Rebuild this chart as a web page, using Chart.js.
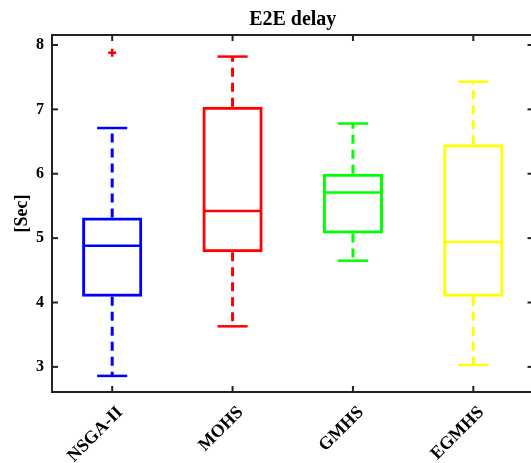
<!DOCTYPE html>
<html>
<head>
<meta charset="utf-8">
<script src="https://cdn.jsdelivr.net/npm/chart.js@4.4.0/dist/chart.umd.min.js"></script>
<style>
  html, body { margin: 0; padding: 0; overflow: hidden; background: #fff; }
</style>
</head>
<body>
<canvas id="chart" width="540" height="463" style="width:540px;height:463px"></canvas>
<script>
const categories = ["NSGA-II", "MOHS", "GMHS", "EGMHS"];
const boxLow = [4.09, 4.78, 5.07, 4.09];
const boxHigh = [5.32, 7.04, 6.00, 6.46];
const medians = [4.88, 5.42, 5.71, 4.94];
const whiskerLow = [2.86, 3.63, 4.65, 3.03];
const whiskerHigh = [6.71, 7.82, 6.78, 7.43];
const outliers = [7.88, null, null, null];
const yTicks = [3, 4, 5, 6, 7, 8];
const colors = ["#0000ff", "#ff0000", "#00ff00", "#ffff00"];

const serif = "'Liberation Serif', 'Times New Roman', serif";

function seg(ctx, x1, y1, x2, y2) {
  ctx.beginPath();
  ctx.moveTo(x1, y1);
  ctx.lineTo(x2, y2);
  ctx.stroke();
}

// whiskers, medians, axes frame with inward ticks
const boxExtras = {
  id: "boxExtras",
  afterDatasetsDraw(chart) {
    const { ctx, scales: { x, y } } = chart;
    const bars = chart.getDatasetMeta(0).data;
    categories.forEach((c, i) => {
      const cx = x.getPixelForValue(i);
      const w = bars[i].width;
      ctx.save();
      ctx.strokeStyle = colors[i];
      ctx.lineWidth = 2.5;
      seg(ctx, cx - w / 2 + 1, y.getPixelForValue(medians[i]), cx + w / 2 - 1, y.getPixelForValue(medians[i]));
      ctx.lineWidth = 3;
      ctx.setLineDash([9, 6]);
      seg(ctx, cx, y.getPixelForValue(boxHigh[i]), cx, y.getPixelForValue(whiskerHigh[i]));
      seg(ctx, cx, y.getPixelForValue(boxLow[i]), cx, y.getPixelForValue(whiskerLow[i]));
      ctx.setLineDash([]);
      ctx.lineWidth = 2.5;
      seg(ctx, cx - w / 4, y.getPixelForValue(whiskerHigh[i]), cx + w / 4, y.getPixelForValue(whiskerHigh[i]));
      seg(ctx, cx - w / 4, y.getPixelForValue(whiskerLow[i]), cx + w / 4, y.getPixelForValue(whiskerLow[i]));
      ctx.restore();
    });
  },
  afterDraw(chart) {
    const { ctx, chartArea: a, scales: { x, y } } = chart;
    ctx.save();
    ctx.strokeStyle = "#222";
    ctx.lineWidth = 2;
    ctx.strokeRect(a.left, a.top, a.right - a.left, a.bottom - a.top);
    const t = 6;
    yTicks.forEach(v => {
      const py = y.getPixelForValue(v);
      seg(ctx, a.left, py, a.left + t, py);
      seg(ctx, a.right, py, a.right - t, py);
    });
    categories.forEach((c, i) => {
      const px = x.getPixelForValue(i);
      seg(ctx, px, a.bottom, px, a.bottom - t);
      seg(ctx, px, a.top, px, a.top + t);
    });
    ctx.restore();
  }
};

new Chart(document.getElementById("chart"), {
  type: "bar",
  data: {
    labels: categories,
    datasets: [
      {
        data: boxLow.map((v, i) => [v, boxHigh[i]]),
        backgroundColor: "rgba(0,0,0,0)",
        borderColor: colors,
        borderWidth: 3,
        borderSkipped: false,
        barPercentage: 0.5,
        categoryPercentage: 1
      },
      {
        type: "line",
        data: outliers,
        showLine: false,
        pointStyle: "cross",
        pointRadius: 4,
        pointBorderWidth: 2.5,
        borderColor: "#ff0000",
        backgroundColor: "#ff0000"
      }
    ]
  },
  options: {
    responsive: false,
    animation: false,
    layout: { padding: { left: 0, right: 3, top: 0, bottom: 0 } },
    plugins: {
      legend: { display: false },
      tooltip: { enabled: false },
      title: {
        display: true,
        text: "E2E delay",
        color: "#000",
        fullSize: false,
        font: { family: serif, size: 20, weight: "bold" },
        padding: { top: 8, bottom: 3 }
      }
    },
    scales: {
      x: {
        grid: { display: false, drawTicks: false },
        border: { display: false },
        ticks: {
          color: "#000",
          font: { family: serif, size: 18, weight: "bold" },
          minRotation: 45,
          maxRotation: 45,
          autoSkip: false,
          padding: 10,
          labelOffset: 8
        },
        afterFit: s => { s.height = 71; }
      },
      y: {
        min: 2.61,
        max: 8.155,
        grid: { display: false, drawTicks: false },
        border: { display: false },
        ticks: {
          color: "#000",
          font: { family: serif, size: 16, weight: "bold" },
          padding: 8
        },
        afterBuildTicks: s => { s.ticks = yTicks.map(v => ({ value: v })); },
        title: {
          display: true,
          text: "[Sec]",
          color: "#000",
          font: { family: serif, size: 18, weight: "bold" },
          padding: { top: 12, bottom: 0 }
        },
        afterFit: s => { s.width = 52; }
      }
    }
  },
  plugins: [boxExtras]
});
</script>
</body>
</html>
